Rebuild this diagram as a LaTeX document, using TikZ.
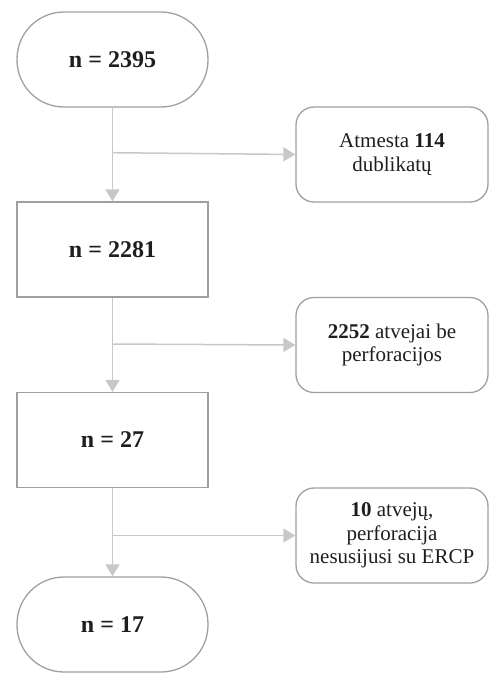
\documentclass[tikz,border=0pt]{standalone}
\usepackage{fontspec}
\setmainfont{Liberation Serif}
\usetikzlibrary{arrows.meta}
\definecolor{boxline}{HTML}{A0A0A0}
\definecolor{arrline}{HTML}{C8C8C8}
\definecolor{txt}{HTML}{1E1E1E}
\begin{document}
\begin{tikzpicture}[x=1pt,y=-1pt,
  base/.style={draw=boxline, line width=1.3pt, text=txt, align=center, inner sep=0pt},
  term/.style={base, minimum width=191pt, minimum height=95pt, rounded corners=47pt, font=\fontsize{24}{28}\selectfont\bfseries},
  proc/.style={base, minimum width=191pt, minimum height=95pt, font=\fontsize{24}{28}\selectfont\bfseries},
  side/.style={base, minimum width=192pt, minimum height=95pt, rounded corners=18pt, font=\fontsize{21}{23.3}\selectfont},
  flow/.style={draw=arrline, line width=1.5pt, -{Triangle[length=12pt,width=14pt]}}]
\useasboundingbox (0,0) rectangle (495,673);
\node[term] (t1) at (112.5,59.5) {n = 2395};
\node[proc] (b1) at (112.5,249.5) {n = 2281};
\node[proc] (b2) at (112.5,440) {n = 27};
\node[term] (t2) at (112.5,624.5) {n = 17};
\node[side] (r1) at (392,154.5) {Atmesta \textbf{114}\\dublikatų};
\node[side] (r2) at (392,345) {\textbf{2252} atvejai be\\perforacijos};
\node[side] (r3) at (392,535.5) {\textbf{10} atvejų,\\perforacija\\nesusijusi su ERCP};
\coordinate (j1) at (112.5,152.7);
\coordinate (j2) at (112.5,344);
\coordinate (j3) at (112.5,535.5);
\draw[flow] (t1.south) -- (b1.north);
\draw[flow] (b1.south) -- (b2.north);
\draw[flow] (b2.south) -- (t2.north);
\draw[flow] (j1) -- (r1.west);
\draw[flow] (j2) -- (r2.west);
\draw[flow] (j3) -- (r3.west);
\end{tikzpicture}
\end{document}
